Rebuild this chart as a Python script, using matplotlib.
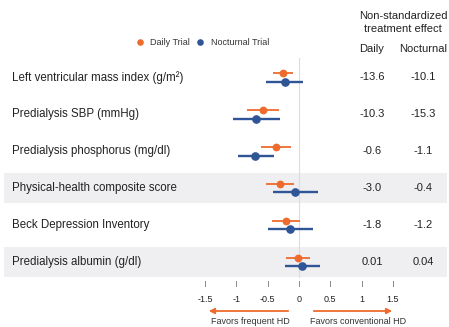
import matplotlib
matplotlib.use("Agg")
import matplotlib.pyplot as plt

plt.rcParams['font.family'] = ['Liberation Sans', 'DejaVu Sans']

# outcomes, top to bottom
outcomes = ["Left ventricular mass index (g/m²)", "Predialysis SBP (mmHg)",
            "Predialysis phosphorus (mg/dl)", "Physical-health composite score",
            "Beck Depression Inventory", "Predialysis albumin (g/dl)"]

# standardized effects (point, lower, upper)
daily_est = [-0.26, -0.58, -0.36, -0.31, -0.21, -0.01]
daily_lo = [-0.42, -0.83, -0.60, -0.53, -0.43, -0.21]
daily_hi = [-0.09, -0.32, -0.13, -0.08, 0.02, 0.18]
noct_est = [-0.23, -0.68, -0.70, -0.06, -0.14, 0.05]
noct_lo = [-0.53, -1.05, -0.98, -0.42, -0.49, -0.23]
noct_hi = [0.07, -0.30, -0.40, 0.30, 0.22, 0.33]

# non-standardized treatment effect columns
daily_txt = ["-13.6", "-10.3", "-0.6", "-3.0", "-1.8", "0.01"]
noct_txt = ["-10.1", "-15.3", "-1.1", "-0.4", "-1.2", "0.04"]

x_ticks = [-1.5, -1, -0.5, 0, 0.5, 1, 1.5]
x_tick_labels = ["-1.5", "-1", "-0.5", "0", "0.5", "1", "1.5"]

ORANGE = "#EE6B2D"
BLUE = "#2F5597"
BAND = "#EFEFF1"

W, H = 449, 327
X0, XS = 299, 62.7      # pixel of zero and pixels per unit
Y0, YS = 77.4, 36.9     # pixel of first row and pixels per row


def py(p):
    '''pixel y -> row units'''
    return (p - Y0) / YS


def px(p):
    '''pixel x -> effect units'''
    return (p - X0) / XS


fig = plt.figure(figsize=(W / 100, H / 100), dpi=100)
ax = fig.add_axes([0, 0, 1, 1])
ax.set_xlim(px(0), px(W))
ax.set_ylim(py(H), py(0))
ax.axis("off")

rows = list(range(len(outcomes)))

# shaded bands
for i in (3, 5):
    ax.fill_between([px(4), px(447)], i - 0.41, i + 0.41, color=BAND, lw=0, zorder=0)

# zero reference line
ax.plot([0, 0], [py(58), py(277)], color="#DCDCDC", lw=0.8, zorder=1)

off = 4.3 / YS
for i in rows:
    ax.text(px(12), i, outcomes[i], ha="left", va="center", fontsize=8.3, color="#222222")
    ax.text(px(372), i, daily_txt[i], ha="center", va="center", fontsize=8, color="#222222")
    ax.text(px(423), i, noct_txt[i], ha="center", va="center", fontsize=8, color="#222222")

ax.errorbar(daily_est, [i - off for i in rows],
            xerr=[[e - l for e, l in zip(daily_est, daily_lo)],
                  [h - e for e, h in zip(daily_est, daily_hi)]],
            fmt="o", color=ORANGE, ms=4.6, lw=1.3, capsize=0, zorder=3)
ax.errorbar(noct_est, [i + off for i in rows],
            xerr=[[e - l for e, l in zip(noct_est, noct_lo)],
                  [h - e for e, h in zip(noct_est, noct_hi)]],
            fmt="o", color=BLUE, ms=5.2, lw=1.7, capsize=0, zorder=3)

# x axis ticks and labels
for t, lab in zip(x_ticks, x_tick_labels):
    ax.plot([t, t], [py(281), py(286)], color="#888888", lw=0.7)
    ax.text(t, py(299), lab, ha="center", va="center", fontsize=6.5, color="#222222")

# direction arrows
ax.annotate("", xy=(px(206), py(311)), xytext=(px(291), py(311)),
            arrowprops=dict(arrowstyle="-|>", color=ORANGE, lw=1.3, mutation_scale=8))
ax.annotate("", xy=(px(395), py(311)), xytext=(px(311), py(311)),
            arrowprops=dict(arrowstyle="-|>", color=ORANGE, lw=1.3, mutation_scale=8))
ax.text(px(250), py(322), "Favors frequent HD", ha="center", va="center", fontsize=6.5, color="#333333")
ax.text(px(358), py(322), "Favors conventional HD", ha="center", va="center", fontsize=6.5, color="#333333")

# legend
ax.scatter([px(140)], [py(42)], s=14, color=ORANGE)
ax.text(px(150), py(42), "Daily Trial", ha="left", va="center", fontsize=6.5, color="#333333")
ax.scatter([px(200)], [py(42)], s=14, color=BLUE)
ax.text(px(211), py(42), "Nocturnal Trial", ha="left", va="center", fontsize=6.5, color="#333333")

# column header
ax.text(px(403), py(16), "Non-standardized", ha="center", va="center", fontsize=8, color="#222222")
ax.text(px(403), py(29), "treatment effect", ha="center", va="center", fontsize=8, color="#222222")
ax.text(px(372), py(49), "Daily", ha="center", va="center", fontsize=8, color="#222222")
ax.text(px(423), py(49), "Nocturnal", ha="center", va="center", fontsize=8, color="#222222")

fig.savefig("out.png", dpi=100)
